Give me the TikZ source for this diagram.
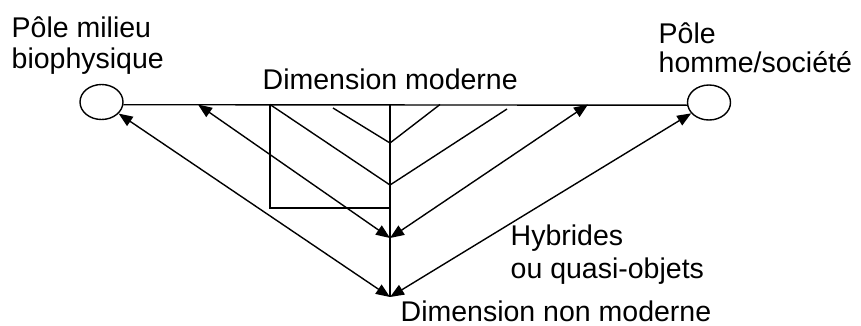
\documentclass[tikz,border=0pt]{standalone}
\usepackage{fontspec}
\setmainfont{Liberation Sans}
\usetikzlibrary{arrows.meta,shapes.geometric}

\begin{document}
\begin{tikzpicture}[x=1pt, y=-1pt, line width=1.4pt,
    >={Triangle[length=14pt,width=11pt]},
    pole/.style={draw, ellipse, minimum width=43pt, minimum height=35pt, inner sep=0pt},
    lbl/.style={anchor=base west, inner sep=0pt, align=left,
                font=\fontsize{28.5}{31}\selectfont}]
  \useasboundingbox (0,0) rectangle (861,325);

  % poles
  \node[pole] (mb) at (101.5,102) {};
  \node[pole] (hs) at (709,102.5) {};

  % points on the axes
  \coordinate (a1) at (198,104.5);
  \coordinate (r1) at (270,104.5);
  \coordinate (c1) at (333,108);
  \coordinate (top) at (390,104.5);
  \coordinate (c2) at (440,104.5);
  \coordinate (c3) at (507,109);
  \coordinate (a2) at (588,104.5);
  \coordinate (h1) at (390,143);
  \coordinate (h2) at (390,185);
  \coordinate (r2) at (390,208);
  \coordinate (p1) at (390,238);
  \coordinate (p2) at (390,297);

  % dimension moderne / non moderne
  \draw (mb.-7) -- (hs.187);
  \draw (top) -- (p2);
  \draw (r1) rectangle (r2);
  \draw (c1) -- (h1) -- (c2);
  \draw (r1) -- (h2) -- (c3);

  % hybrides
  \draw[<->] (a1) -- (p1);
  \draw[<->] (a2) -- (p1);
  \draw[<->] (mb) -- (p2);
  \draw[<->] (hs) -- (p2);

  \node[lbl] (lmb) at (11,68) {Pôle milieu\\biophysique};
  \node[lbl] (lhs) at (658,72) {Pôle\\[-2pt]homme/société};
  \node[lbl] (ldm) at (262,89) {Dimension moderne};
  \node[lbl] (lhy) at (510,278) {Hybrides\\[2pt]ou quasi-objets};
  \node[lbl] (ldn) at (400,321) {Dimension non moderne};
\end{tikzpicture}
\end{document}
